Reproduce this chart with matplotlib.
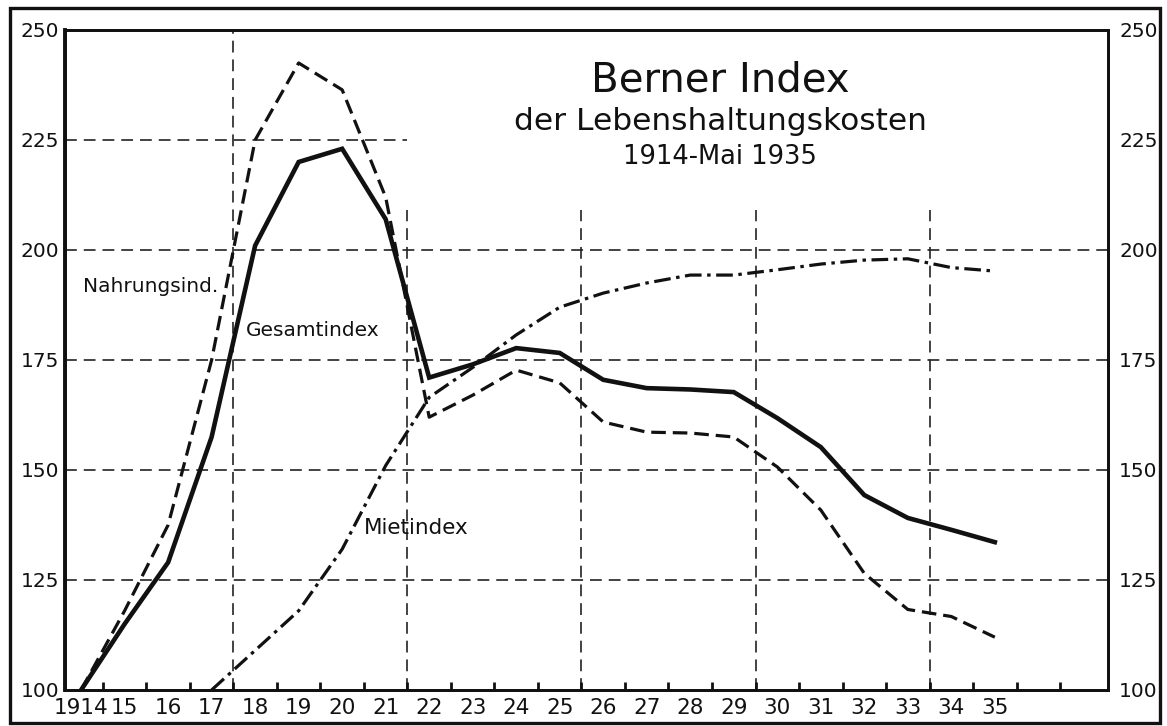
import matplotlib.pyplot as plt
from matplotlib.patches import Rectangle
import numpy as np

plt.rcParams["font.family"] = ["DejaVu Sans"]
plt.rcParams["lines.scale_dashes"] = False

# Berner Index der Lebenshaltungskosten, 1914 = 100
years = ["1914", "15", "16", "17", "18", "19", "20", "21", "22", "23", "24",
         "25", "26", "27", "28", "29", "30", "31", "32", "33", "34", "35"]
gesamtindex = [100, 115, 129, 157.5, 201, 220, 223, 207, 171, 174, 177.7,
               176.6, 170.5, 168.6, 168.3, 167.7, 161.8, 155.2, 144.3, 139.1,
               136.4, 133.6]
nahrungsindex = [100, 118, 137.5, 175, 225, 242.5, 236.4, 212, 162, 167,
                 172.7, 169.8, 160.9, 158.6, 158.4, 157.5, 150.7, 140.9, 126.5,
                 118.3, 116.7, 112]
# rent index only drawn from 1917 on
miet_start = 3
mietindex = [100, 109, 118, 132, 151, 166.5, 173.3, 180.7, 187, 190.2, 192.5,
             194.3, 194.3, 195.5, 196.8, 197.7, 198, 196, 195.2]

y_ticks = [100, 125, 150, 175, 200, 225, 250]
h_grid = [125, 150, 175, 200]

x = np.arange(len(years))
x_miet = np.arange(miet_start, miet_start + len(mietindex))

fig = plt.figure(figsize=(11.67, 7.26), dpi=100)
ax = fig.add_axes([0.0557, 0.0496, 0.8937, 0.9091])
ax.set_xlim(-0.37, 23.6)
ax.set_ylim(100, 250)

grid_style = dict(color="#222222", lw=1.2, ls=(0, (8.5, 5)), zorder=1)
for level in h_grid:
    ax.axhline(level, **grid_style)
ax.hlines(225, -0.37, 7.5, **grid_style)
ax.vlines(3.5, 100, 250, **grid_style)
ax.vlines([7.5, 11.5, 15.5, 19.5], 100, 209, **grid_style)

ax.plot(x, gesamtindex, color="#111111", lw=3.3, solid_joinstyle="miter",
        zorder=4)
ax.plot(x, nahrungsindex, color="#111111", lw=2.3, ls=(0, (10.5, 5)),
        zorder=3)
ax.plot(x_miet, mietindex, color="#111111", lw=2.3, ls=(0, (12, 4, 2.5, 4)),
        zorder=3)

ax.text(0.05, 191.6, "Nahrungsind.", fontsize=14.5, va="center",
        color="#111111")
ax.text(3.78, 181.8, "Gesamtindex", fontsize=14.5, va="center",
        color="#111111")
ax.text(6.5, 136.8, "Mietindex", fontsize=15.5, va="center", color="#111111")

ax.text(0.628, 0.924, "Berner Index", transform=ax.transAxes, fontsize=29,
        ha="center", va="center", color="#111111")
ax.text(0.628, 0.861, "der Lebenshaltungskosten", transform=ax.transAxes,
        fontsize=22.5, ha="center", va="center", color="#111111")
ax.text(0.628, 0.808, "1914-Mai 1935", transform=ax.transAxes, fontsize=18.5,
        ha="center", va="center", color="#111111")

ax.set_xticks(x)
ax.set_xticklabels(years, fontsize=15.5)
ax.set_xticks(np.arange(0.5, 23, 1.0), minor=True)
ax.tick_params(axis="x", which="major", length=0, pad=6, colors="#111111")
ax.tick_params(axis="x", which="minor", direction="in", length=6, width=2,
               color="#111111")

ax.set_yticks(y_ticks)
ax.tick_params(axis="y", length=0, pad=4, labelsize=14.5, colors="#111111")
ax2 = ax.twinx()
ax2.set_ylim(ax.get_ylim())
ax2.set_yticks(y_ticks)
ax2.tick_params(axis="y", length=0, pad=8, labelsize=14.5, colors="#111111")

for a in (ax, ax2):
    for side, sp in a.spines.items():
        sp.set_linewidth(2.0)
        sp.set_color("#111111")
ax.spines["left"].set_linewidth(2.8)

# outer frame around the whole drawing
fig.patches.append(Rectangle((0.0086, 0.004), 0.9854, 0.985,
                             transform=fig.transFigure, fill=False,
                             lw=2.4, ec="#111111"))

fig.savefig("out.png", dpi=100)
